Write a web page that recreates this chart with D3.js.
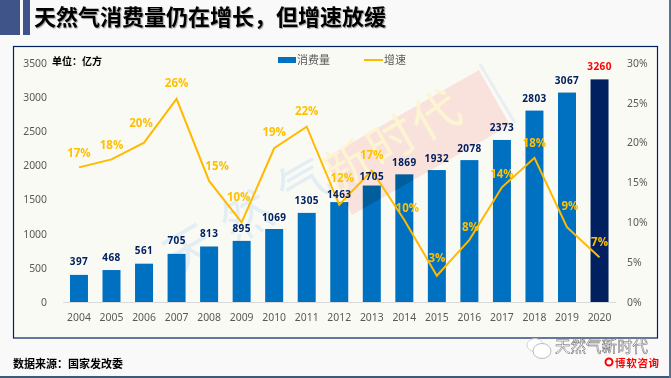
<!DOCTYPE html>
<html>
<head>
<meta charset="utf-8">
<title>天然气消费量仍在增长,但增速放缓</title>
<script src="https://d3js.org/d3.v7.min.js"></script>
<style>
  html, body { margin: 0; padding: 0; background: #f9f9f9; overflow: hidden; }
  svg { display: block; }
  text { font-family: "Noto Sans CJK SC", "Noto Sans", sans-serif; }
  .tick_label text, .tick_label_x text { font-family: "Noto Sans", sans-serif; font-size: 10.4px; fill: #595959; }
  .bar_label { font-family: "Open Sans", sans-serif; font-size: 10px; font-weight: 700; fill: #002060; text-anchor: middle; letter-spacing: .4px; }
  .rate_label { font-family: "Open Sans", sans-serif; font-size: 11.5px; font-weight: 700; fill: #ffc000; text-anchor: middle; }
  .watermark_tint { mix-blend-mode: multiply; }
</style>
</head>
<body>
<div id="chart"></div>

<script>
// values
const years = ["2004", "2005", "2006", "2007", "2008", "2009", "2010", "2011", "2012", "2013", "2014", "2015", "2016", "2017", "2018", "2019", "2020"];
const consumption = [397, 468, 561, 705, 813, 895, 1069, 1305, 1463, 1705, 1869, 1932, 2078, 2373, 2803, 3067, 3260];
const growthRates = [16.9, 17.9, 20, 25.5, 15.2, 10, 19.3, 22, 12.2, 16.5, 10.3, 3.3, 7.8, 14.4, 18.1, 9.4, 5.6];
const growthLabels = ["17%", "18%", "20%", "26%", "15%", "10%", "19%", "22%", "12%", "17%", "10%", "3%", "8%", "14%", "18%", "9%", "7%"];
const leftTicks = [0, 500, 1000, 1500, 2000, 2500, 3000, 3500];
const rightTicks = [0, 5, 10, 15, 20, 25, 30];

// hand placed label nudges, same order as years
const rateNudgeX = [0, 0, -3, 0, 8, -3, 0, 0, 3, 0, 3, 0, 1, 0, 0, 3, 0];
const rateNudgeY = [-15, -15, -20, -16, -15, -25, -16, -16, -27, -16, -12, -18, -13, -13, -15, -21, -16];
const barNudgeY = [-13, -13, -13, -13, -13, -12, -12, -12, -8, -9, -12, -12, -12, -13, -12, -12, -13];

const width = 671, height = 378;
const plot = {left: 62.7, right: 615.8, top: 63, bottom: 302};
const watermarkBox = "325,158 479,70 510,125 352,215";

const svg = d3.select("#chart")
  .append("svg")
    .attr("width", width)
    .attr("height", height);

// page furniture
svg.append("rect").attr("x", 0).attr("y", 0).attr("width", 20).attr("height", 35).attr("fill", "#3f5488");
svg.append("rect").attr("x", 23).attr("y", 0).attr("width", 7).attr("height", 35).attr("fill", "#3f5488");
svg.append("rect").attr("x", 0).attr("y", 376).attr("width", width).attr("height", 2).attr("fill", "#3d5a78");
svg.append("rect").attr("x", 669).attr("y", 0).attr("width", 2).attr("height", height).attr("fill", "#5a7390");

svg.append("text")
  .attr("x", 34).attr("y", 25)
  .attr("font-size", 22).attr("font-weight", 700).attr("fill", "#000")
  .style("text-shadow", "1px 1px 1px #999")
  .text("天然气消费量仍在增长\uFF0C但增速放缓");

// chart frame
svg.append("rect")
  .attr("x", 13.5).attr("y", 46.5)
  .attr("width", 644).attr("height", 291.5)
  .attr("fill", "#fafaf5")
  .attr("stroke", "#002060").attr("stroke-width", 1.2);

// watermark behind the bars
const mark = svg.append("g");
mark.append("polygon")
  .attr("points", watermarkBox)
  .attr("fill", "#f9e2dc");
mark.append("line")
  .attr("x1", 480).attr("y1", 64).attr("x2", 515).attr("y2", 123)
  .attr("stroke", "#e8eff2").attr("stroke-width", 3);
mark.append("text")
  .attr("transform", "translate(335,193) rotate(-30)")
  .attr("font-size", 48).attr("fill", "#fcf4d2")
  .style("letter-spacing", "3px")
  .text("新时代");
mark.append("text")
  .attr("transform", "translate(176,278) rotate(-30)")
  .attr("font-size", 50).attr("fill", "#e2eef3")
  .style("letter-spacing", "16px")
  .text("天然气");

const x = d3.scaleBand()
  .domain(years)
  .range([plot.left, plot.right])
  .paddingInner(0.447)
  .paddingOuter(0.2235);

const y = d3.scaleLinear().domain([0, 3500]).range([plot.bottom, plot.top]);
const yRate = d3.scaleLinear().domain([0, 30]).range([plot.bottom, plot.top]);

// bars
svg.selectAll(".bar")
  .data(years)
  .enter()
  .append("rect")
  .attr("class", "bar")
  .attr("x", d => x(d))
  .attr("y", (d, i) => y(consumption[i]))
  .attr("width", x.bandwidth())
  .attr("height", (d, i) => plot.bottom - y(consumption[i]))
  .attr("fill", d => d === "2020" ? "#002060" : "#0070c0");

// the red box also darkens the bars it crosses
svg.append("clipPath")
  .attr("id", "bar_clip")
  .selectAll("rect")
  .data(years)
  .enter()
  .append("rect")
  .attr("x", d => x(d))
  .attr("y", (d, i) => y(consumption[i]))
  .attr("width", x.bandwidth())
  .attr("height", (d, i) => plot.bottom - y(consumption[i]));

svg.append("polygon")
  .attr("class", "watermark_tint")
  .attr("points", watermarkBox)
  .attr("fill", "#e6d6d0")
  .attr("clip-path", "url(#bar_clip)");

// axes
const xAxis = svg.append("g")
  .attr("class", "tick_label_x")
  .attr("transform", `translate(0,${plot.bottom})`)
  .call(d3.axisBottom(x).tickSize(0).tickPadding(12));
xAxis.select(".domain").attr("stroke", "#d9d9d9").attr("stroke-width", 1);

const leftAxis = svg.append("g")
  .attr("class", "tick_label")
  .attr("transform", "translate(47,0)")
  .call(d3.axisLeft(y).tickValues(leftTicks).tickSize(0).tickPadding(0).tickFormat(d => d));
leftAxis.select(".domain").remove();

const rightAxis = svg.append("g")
  .attr("class", "tick_label")
  .attr("transform", "translate(627,0)")
  .call(d3.axisRight(yRate).tickValues(rightTicks).tickSize(0).tickPadding(0).tickFormat(d => d + "%"));
rightAxis.select(".domain").remove();

// growth line
const line = d3.line()
  .x((d, i) => x(years[i]) + x.bandwidth() / 2)
  .y(d => yRate(d));

svg.append("path")
  .datum(growthRates)
  .attr("d", line)
  .attr("fill", "none")
  .attr("stroke", "#ffb900")
  .attr("stroke-width", 2);

// bar value labels, on top of the line
svg.selectAll(".bar_label")
  .data(years)
  .enter()
  .append("text")
  .attr("class", "bar_label")
  .attr("x", d => x(d) + x.bandwidth() / 2)
  .attr("y", (d, i) => y(consumption[i]) + barNudgeY[i])
  .attr("dy", "0.36em")
  .style("fill", d => d === "2020" ? "#ff0000" : null)
  .text((d, i) => consumption[i]);

svg.selectAll(".rate_label")
  .data(years)
  .enter()
  .append("text")
  .attr("class", "rate_label")
  .attr("x", (d, i) => x(d) + x.bandwidth() / 2 + rateNudgeX[i])
  .attr("y", (d, i) => yRate(growthRates[i]) + rateNudgeY[i])
  .attr("dy", "0.36em")
  .text((d, i) => growthLabels[i]);

// legend and unit
svg.append("text")
  .attr("x", 52).attr("y", 65)
  .attr("font-size", 10).attr("font-weight", 700).attr("fill", "#000")
  .text("单位\uFF1A亿方");

svg.append("rect").attr("x", 278).attr("y", 57).attr("width", 18).attr("height", 6).attr("fill", "#0070c0");
svg.append("text")
  .attr("x", 297).attr("y", 64)
  .attr("font-size", 11).attr("fill", "#595959")
  .text("消费量");
svg.append("line")
  .attr("x1", 364).attr("x2", 383).attr("y1", 60).attr("y2", 60)
  .attr("stroke", "#ffb900").attr("stroke-width", 2);
svg.append("text")
  .attr("x", 384).attr("y", 64)
  .attr("font-size", 11).attr("fill", "#595959")
  .text("增速");

// source line
svg.append("text")
  .attr("x", 13).attr("y", 368)
  .attr("font-size", 11).attr("font-weight", 700).attr("fill", "#000")
  .text("数据来源\uFF1A国家发改委");

// account stamp, bottom right
const stamp = svg.append("g");
stamp.append("ellipse").attr("cx", 535).attr("cy", 345).attr("rx", 8).attr("ry", 6.5)
  .attr("fill", "#fff").attr("stroke", "#c8c8c8").attr("stroke-width", 0.8);
stamp.append("ellipse").attr("cx", 542).attr("cy", 351).attr("rx", 9).attr("ry", 7.5)
  .attr("fill", "#fff").attr("stroke", "#aaa").attr("stroke-width", 0.8);
stamp.append("text")
  .attr("x", 555).attr("y", 352)
  .attr("font-size", 15.5).attr("fill", "#fff")
  .attr("stroke", "#666").attr("stroke-width", 0.5)
  .text("天然气新时代");
stamp.append("circle").attr("cx", 609).attr("cy", 362).attr("r", 3.5)
  .attr("fill", "#fff").attr("stroke", "#ff0000").attr("stroke-width", 2);
stamp.append("text")
  .attr("x", 615).attr("y", 366.5)
  .attr("font-size", 10.5).attr("font-weight", 700).attr("fill", "#ff0000")
  .style("letter-spacing", "0.7px")
  .text("博软咨询");
</script>
</body>
</html>
